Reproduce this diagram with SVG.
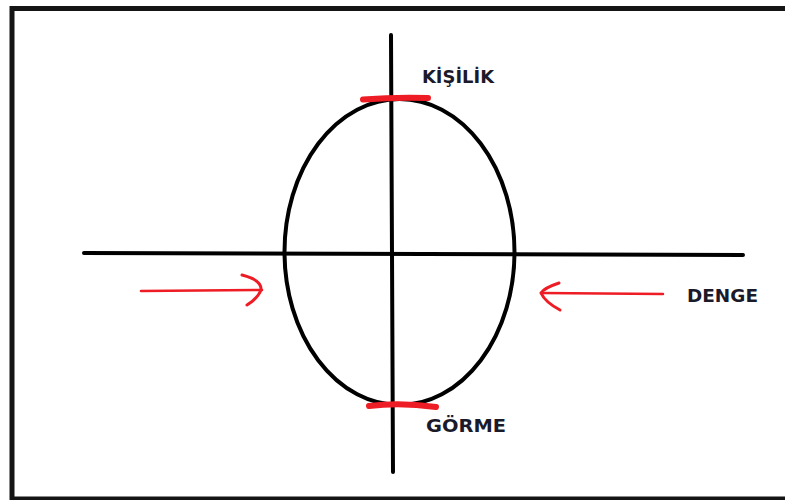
<svg xmlns="http://www.w3.org/2000/svg" width="785" height="500" viewBox="0 0 785 500">
<style>
.ax{stroke:#000;stroke-width:4;fill:none;stroke-linecap:round}
.red{stroke:#ee1c24;fill:none;stroke-linecap:round;stroke-linejoin:round}
.lbl{font-family:"DejaVu Sans","Liberation Sans",sans-serif;font-weight:bold;font-size:17px;fill:#1a1a2a}
</style>
<rect width="785" height="500" fill="#fff"/>
<path d="M12 500 V8.5 H785" stroke="#151515" stroke-width="5" fill="none"/>
<line x1="12" y1="498.5" x2="785" y2="498.5" stroke="#151515" stroke-width="4"/>
<g id="connectors">
<line class="ax" x1="84" y1="253" x2="743" y2="255"/>
<line class="ax" x1="391" y1="35" x2="393" y2="472"/>
</g>
<g id="ellipse">
<ellipse cx="399.5" cy="252" rx="115" ry="153" class="ax"/>
</g>
<g id="kisilik">
<path class="red" stroke-width="6" d="M363 99.5 Q395 97 428 98"/>
<text class="lbl" x="422" y="83" textLength="72" lengthAdjust="spacingAndGlyphs">KİŞİLİK</text>
</g>
<g id="gorme">
<path class="red" stroke-width="6" d="M369 406 Q400 402 436 407"/>
<text class="lbl" x="426" y="432" textLength="80" lengthAdjust="spacingAndGlyphs">GÖRME</text>
</g>
<g id="arrow-left">
<path class="red" stroke-width="2.5" d="M141 291 L262 290"/>
<path class="red" stroke-width="3" d="M242 275 Q262 280 261 290 Q258 298 247 305"/>
</g>
<g id="arrow-right">
<path class="red" stroke-width="2.5" d="M663 294 L541 293"/>
<path class="red" stroke-width="3" d="M559 283 Q544 288 541 293 Q545 302 560 310"/>
</g>
<g id="denge">
<text class="lbl" x="687" y="302" textLength="71" lengthAdjust="spacingAndGlyphs">DENGE</text>
</g>
</svg>
